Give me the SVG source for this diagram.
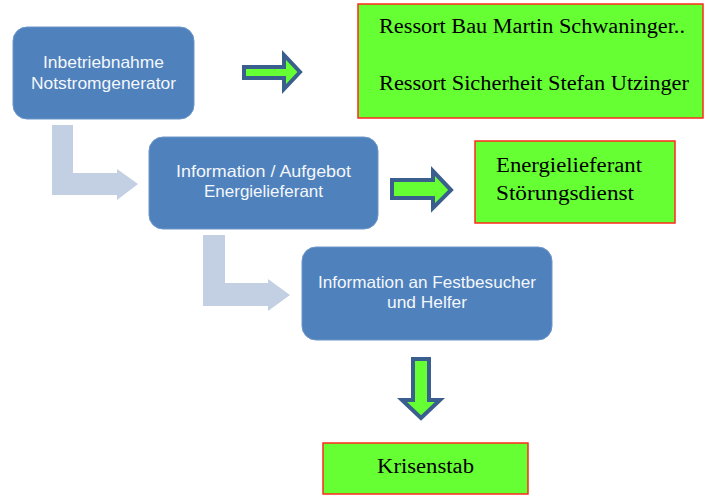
<svg xmlns="http://www.w3.org/2000/svg" width="704" height="499" viewBox="0 0 704 499">
<style>
.blue{fill:#4f81bd;stroke:#6d96c9;stroke-width:1}
.bt{font-family:"Liberation Sans",Arial,sans-serif;font-size:16.5px;fill:#f4f7fb;text-anchor:middle}
.green{fill:#66ff33;stroke:#ff2a1a;stroke-width:1.5}
.gt{font-family:"Liberation Serif","Times New Roman",serif;font-size:20px;fill:#000}
.grey{fill:#c3cfe2}
.garrow{fill:#66ff33;stroke:#3a5f8e;stroke-width:4;stroke-linejoin:miter}
</style>
<rect width="704" height="499" fill="#fff"/>
<g id="connectors">
<path class="grey" d="M52,125 H73 V173 H117 V169 L138,184 L117,200 V195 H52 Z"/>
<path class="grey" d="M203,235 H225 V283 H268 V279 L290,295 L268,311 V306 H203 Z"/>
<path class="garrow" d="M244,67 H284 V55 L300,72 L284,89 V78 H244 Z"/>
<path class="garrow" d="M392,180 H433 V171 L451,190 L433,208 V198 H392 Z"/>
<path class="garrow" d="M413,359 H429 V400 H440 L421,418 L402,400 H413 Z"/>
</g>
<g id="n1">
<rect class="blue" x="13" y="27" width="181" height="92" rx="14"/>
<text class="bt" x="103.5" y="68" textLength="121" lengthAdjust="spacingAndGlyphs">Inbetriebnahme</text>
<text class="bt" x="103.5" y="89" textLength="145" lengthAdjust="spacingAndGlyphs">Notstromgenerator</text>
</g>
<g id="n2">
<rect class="blue" x="149" y="137" width="229" height="92" rx="14"/>
<text class="bt" x="263.5" y="177" textLength="175" lengthAdjust="spacingAndGlyphs">Information / Aufgebot</text>
<text class="bt" x="263.5" y="197" textLength="119" lengthAdjust="spacingAndGlyphs">Energielieferant</text>
</g>
<g id="n3">
<rect class="blue" x="302" y="247" width="250" height="93" rx="14"/>
<text class="bt" x="427" y="288" textLength="218" lengthAdjust="spacingAndGlyphs">Information an Festbesucher</text>
<text class="bt" x="427" y="308" textLength="80" lengthAdjust="spacingAndGlyphs">und Helfer</text>
</g>
<g id="g1">
<rect class="green" x="358" y="4" width="345" height="114"/>
<text class="gt" x="379" y="33" textLength="306" lengthAdjust="spacingAndGlyphs">Ressort Bau Martin Schwaninger..</text>
<text class="gt" x="379" y="90" textLength="310" lengthAdjust="spacingAndGlyphs">Ressort Sicherheit Stefan Utzinger</text>
</g>
<g id="g2">
<rect class="green" x="475" y="141" width="200" height="82"/>
<text class="gt" x="496" y="172" textLength="146" lengthAdjust="spacingAndGlyphs">Energielieferant</text>
<text class="gt" x="496" y="200" textLength="138" lengthAdjust="spacingAndGlyphs">Störungsdienst</text>
</g>
<g id="g3">
<rect class="green" x="323" y="443" width="205" height="51"/>
<text class="gt" x="425.5" y="473" text-anchor="middle" textLength="97" lengthAdjust="spacingAndGlyphs">Krisenstab</text>
</g>
</svg>
